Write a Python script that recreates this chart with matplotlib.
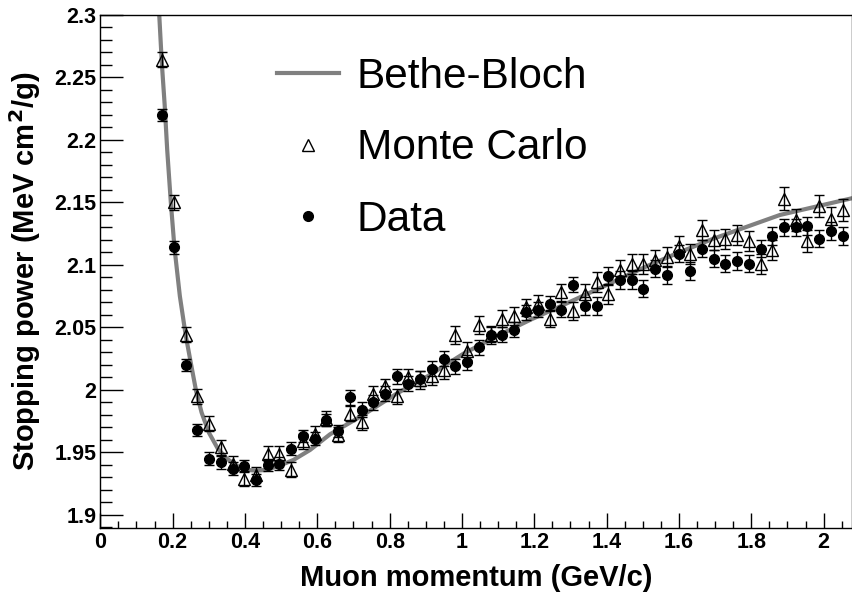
import numpy as np
import matplotlib
matplotlib.use("Agg")
import matplotlib.pyplot as plt
from matplotlib.lines import Line2D

plt.rcParams['font.family'] = ['Liberation Sans', 'DejaVu Sans']

# momentum bin centres (GeV/c)
p = [0.171, 0.203, 0.236, 0.268, 0.301, 0.333, 0.366, 0.398, 0.431, 0.463,
     0.495, 0.528, 0.560, 0.593, 0.625, 0.658, 0.690, 0.723, 0.755, 0.788,
     0.820, 0.852, 0.885, 0.917, 0.950, 0.982, 1.015, 1.047, 1.080, 1.112,
     1.144, 1.177, 1.209, 1.242, 1.274, 1.307, 1.339, 1.372, 1.404, 1.437,
     1.469, 1.501, 1.534, 1.566, 1.599, 1.631, 1.664, 1.696, 1.728, 1.761,
     1.793, 1.826, 1.858, 1.891, 1.923, 1.955, 1.988, 2.020, 2.053]

mc = [2.264, 2.150, 2.044, 1.995, 1.973, 1.954, 1.941, 1.929, 1.932, 1.949,
      1.949, 1.936, 1.959, 1.965, 1.977, 1.964, 1.981, 1.974, 1.997, 2.003,
      1.995, 2.010, 2.008, 2.011, 2.016, 2.044, 2.031, 2.052, 2.044, 2.057,
      2.059, 2.066, 2.069, 2.057, 2.078, 2.063, 2.077, 2.086, 2.077, 2.096,
      2.101, 2.101, 2.104, 2.106, 2.115, 2.109, 2.128, 2.120, 2.121, 2.124,
      2.119, 2.101, 2.112, 2.153, 2.136, 2.119, 2.147, 2.137, 2.144]

mc_err = [0.006, 0.006, 0.006, 0.006, 0.006, 0.006, 0.006, 0.006, 0.006, 0.006,
          0.006, 0.006, 0.006, 0.006, 0.006, 0.006, 0.006, 0.006, 0.006, 0.006,
          0.006, 0.007, 0.007, 0.007, 0.007, 0.007, 0.007, 0.007, 0.007, 0.007,
          0.007, 0.007, 0.007, 0.007, 0.007, 0.007, 0.008, 0.008, 0.008, 0.008,
          0.008, 0.008, 0.008, 0.008, 0.008, 0.008, 0.008, 0.008, 0.008, 0.008,
          0.008, 0.008, 0.008, 0.009, 0.009, 0.009, 0.009, 0.009, 0.009]

data = [2.220, 2.114, 2.020, 1.968, 1.945, 1.942, 1.937, 1.939, 1.928, 1.940,
        1.941, 1.953, 1.963, 1.961, 1.976, 1.967, 1.994, 1.984, 1.990, 1.997,
        2.011, 2.005, 2.009, 2.017, 2.025, 2.019, 2.022, 2.034, 2.044, 2.044,
        2.048, 2.062, 2.064, 2.069, 2.064, 2.084, 2.067, 2.067, 2.091, 2.088,
        2.088, 2.081, 2.097, 2.092, 2.109, 2.095, 2.113, 2.105, 2.101, 2.103,
        2.101, 2.113, 2.123, 2.130, 2.130, 2.131, 2.121, 2.127, 2.123]

data_err = [0.005, 0.005, 0.005, 0.005, 0.005, 0.005, 0.005, 0.005, 0.005, 0.005,
            0.005, 0.005, 0.005, 0.005, 0.005, 0.005, 0.006, 0.006, 0.006, 0.006,
            0.006, 0.006, 0.006, 0.006, 0.006, 0.006, 0.006, 0.006, 0.006, 0.006,
            0.006, 0.006, 0.006, 0.006, 0.006, 0.006, 0.007, 0.007, 0.007, 0.007,
            0.007, 0.007, 0.007, 0.007, 0.007, 0.007, 0.007, 0.007, 0.007, 0.007,
            0.007, 0.007, 0.007, 0.007, 0.007, 0.007, 0.007, 0.007, 0.007]

# Bethe-Bloch curve
bb_p = [0.163, 0.170, 0.178, 0.185, 0.195, 0.205, 0.220, 0.236, 0.250, 0.265,
        0.280, 0.300, 0.325, 0.350, 0.380, 0.405, 0.430, 0.460, 0.500, 0.534,
        0.580, 0.635, 0.727, 0.819, 0.911, 1.004, 1.096, 1.188, 1.280, 1.400,
        1.511, 1.600, 1.695, 1.879, 2.080]
bb = [2.300, 2.262, 2.228, 2.192, 2.150, 2.114, 2.075, 2.044, 2.022, 1.999,
      1.982, 1.966, 1.953, 1.945, 1.939, 1.936, 1.9355, 1.936, 1.940, 1.944,
      1.952, 1.9645, 1.980, 1.997, 2.012, 2.029, 2.043, 2.056, 2.068, 2.084,
      2.099, 2.110, 2.121, 2.140, 2.1535]

fig = plt.figure(figsize=(8.52, 5.94), dpi=100)
ax = fig.add_axes([100.3 / 852, 1 - 527.7 / 594, 751.2 / 852, 512.7 / 594])

ax.plot(bb_p, bb, color='#808080', lw=3, zorder=1)
ax.errorbar(p, mc, yerr=mc_err, fmt='^', ms=8, mfc='none', mec='black', mew=1,
            ecolor='black', elinewidth=1, capsize=3.5, capthick=1, zorder=2)
ax.errorbar(p, data, yerr=data_err, fmt='o', ms=7, color='black',
            ecolor='black', elinewidth=1, capsize=3.5, capthick=1, zorder=3)

ax.set_xlim(0, 2.077)
ax.set_ylim(1.8898, 2.3)
ax.set_xticks(np.arange(0, 2.01, 0.2))
ax.set_xticklabels(['0', '0.2', '0.4', '0.6', '0.8', '1', '1.2', '1.4', '1.6', '1.8', '2'])
ax.set_xticks(np.arange(0, 2.08, 0.05), minor=True)
ax.set_yticks([1.9, 1.95, 2.0, 2.05, 2.1, 2.15, 2.2, 2.25, 2.3])
ax.set_yticklabels(['1.9', '1.95', '2', '2.05', '2.1', '2.15', '2.2', '2.25', '2.3'])
ax.set_yticks(np.arange(1.89, 2.301, 0.01), minor=True)

ax.tick_params(axis='both', which='both', direction='in', top=False, right=False,
               width=1, labelsize=15.5, pad=3)
ax.tick_params(axis='x', which='major', length=10.6)
ax.tick_params(axis='x', which='minor', length=5.3)
ax.tick_params(axis='y', which='major', length=16.6)
ax.tick_params(axis='y', which='minor', length=8.4)
for lab in ax.get_xticklabels() + ax.get_yticklabels():
    lab.set_fontweight('bold')
for s in ax.spines.values():
    s.set_linewidth(1)

ax.set_xlabel('Muon momentum (GeV/c)', fontsize=21, fontweight='bold', labelpad=8)
ax.set_ylabel('Stopping power (MeV cm$^{\\mathbf{2}}$/g)', fontsize=21,
              fontweight='bold', labelpad=8)

handles = [Line2D([], [], color='#808080', lw=3),
           Line2D([], [], marker='^', ls='none', ms=8, mfc='none', mec='black', mew=1),
           Line2D([], [], marker='o', ls='none', ms=7, color='black')]
ax.legend(handles, ['Bethe-Bloch', 'Monte Carlo', 'Data'], loc='upper left',
          bbox_to_anchor=(276.7 / 852, 1 - 57 / 594), bbox_transform=fig.transFigure,
          frameon=False, fontsize=30.5, handlelength=1.47, handletextpad=0.42,
          labelspacing=0.74, borderpad=0, borderaxespad=0)

fig.savefig('out.png', dpi=100)
